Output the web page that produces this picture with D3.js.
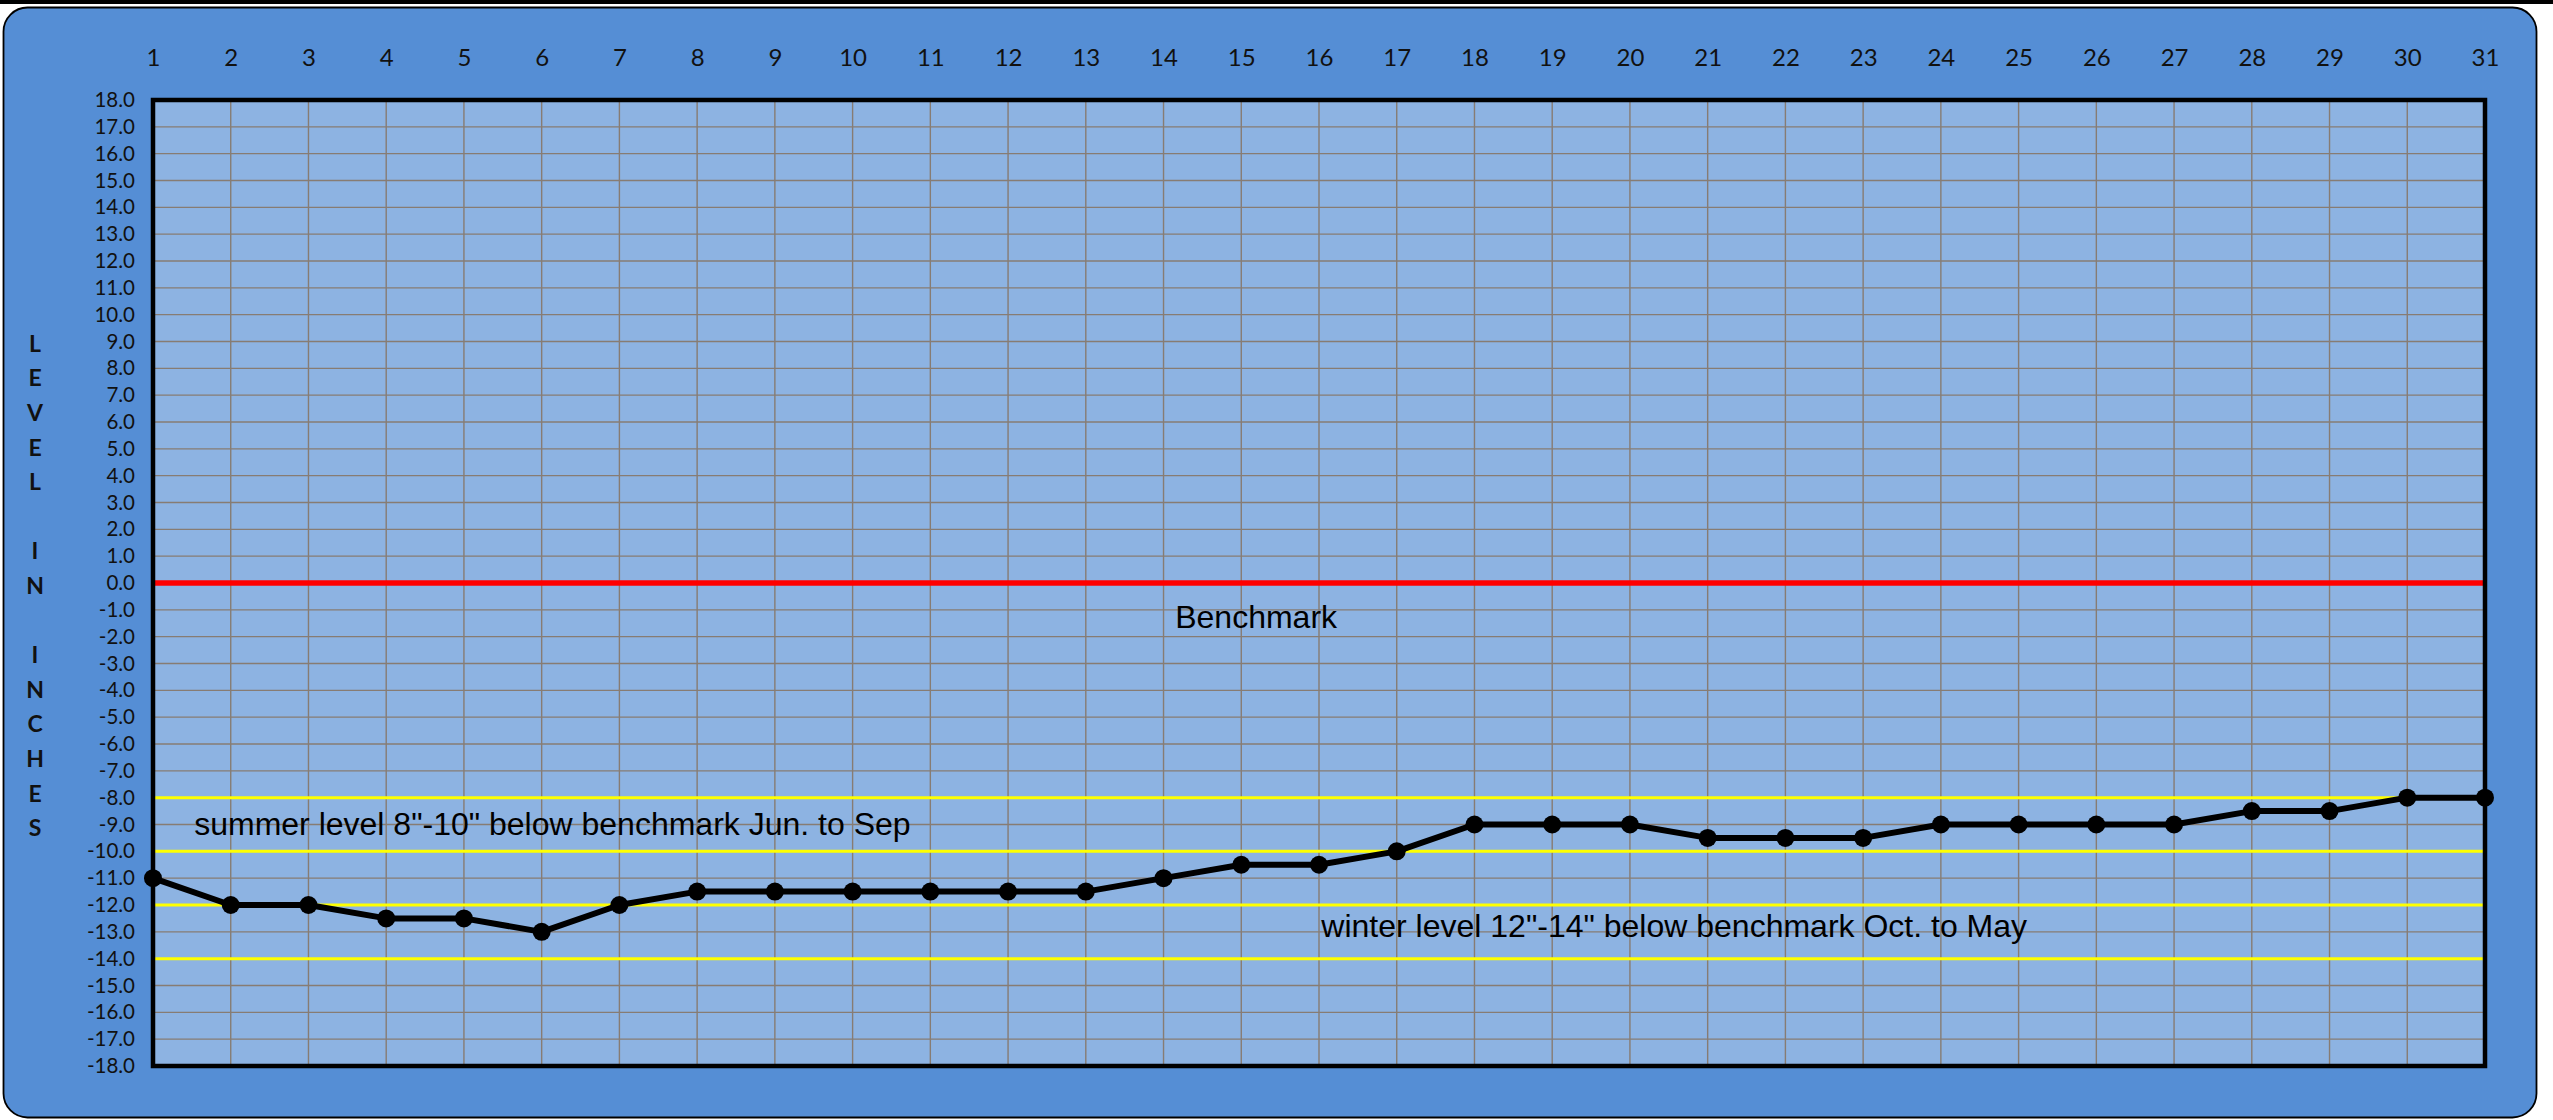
<!DOCTYPE html>
<html>
<head>
<meta charset="utf-8">
<script src="https://cdn.jsdelivr.net/npm/d3@7"></script>
<style>
  body { margin: 0; background: #ffffff; }
  svg { display: block; }
</style>
</head>
<body>
<div id="chart"></div>
<script>
// daily readings, level in inches relative to benchmark
let days = [1, 2, 3, 4, 5, 6, 7, 8, 9, 10, 11, 12, 13, 14, 15, 16,
  17, 18, 19, 20, 21, 22, 23, 24, 25, 26, 27, 28, 29, 30, 31];
let levels = [-11, -12, -12, -12.5, -12.5, -13, -12, -11.5, -11.5, -11.5, -11.5, -11.5, -11.5, -11, -10.5, -10.5,
  -10, -9, -9, -9, -9.5, -9.5, -9.5, -9, -9, -9, -9, -8.5, -8.5, -8, -8];

// y axis tick values
let yTicks = [18, 17, 16, 15, 14, 13, 12, 11, 10, 9, 8, 7, 6, 5, 4, 3, 2, 1, 0,
  -1, -2, -3, -4, -5, -6, -7, -8, -9, -10, -11, -12, -13, -14, -15, -16, -17, -18];

// reference lines
let benchmark = 0;
let guideLevels = [-8, -10, -12, -14];

let noteTexts = [
  "Benchmark",
  "summer level 8\"-10\" below benchmark Jun. to Sep",
  "winter level 12\"-14\" below benchmark Oct. to May"
];
let axisTitle = ["L", "E", "V", "E", "L", "", "I", "N", "", "I", "N", "C", "H", "E", "S"];

let svgWidth = 2553;
let svgHeight = 1120;

let margin = { top: 100, right: 68, bottom: 54, left: 153 };
let width = svgWidth - margin.left - margin.right;
let height = svgHeight - margin.top - margin.bottom;

let svg = d3.select("#chart")
  .append("svg")
  .attr("width", svgWidth)
  .attr("height", svgHeight);

// black strip along the top
svg.append("rect")
  .attr("x", 0).attr("y", 0)
  .attr("width", svgWidth).attr("height", 4)
  .attr("fill", "#000");

// rounded chart background
svg.append("rect")
  .attr("x", 3.5).attr("y", 7.5)
  .attr("width", 2533).attr("height", 1110)
  .attr("rx", 24).attr("ry", 24)
  .attr("fill", "#558ed5")
  .attr("stroke", "#000")
  .attr("stroke-width", 1.8);

let xScale = d3.scaleLinear().domain([1, 31]).range([0, width]);
let yScale = d3.scaleLinear().domain([-18, 18]).range([height, 0]);

let chartGroup = svg.append("g")
  .attr("transform", `translate(${margin.left}, ${margin.top})`);

// plot area
chartGroup.append("rect")
  .attr("width", width)
  .attr("height", height)
  .attr("fill", "#8db3e2");

// gridlines
chartGroup.append("g")
  .selectAll("line")
  .data(days)
  .enter()
  .append("line")
  .attr("x1", d => xScale(d)).attr("x2", d => xScale(d))
  .attr("y1", 0).attr("y2", height)
  .attr("stroke", "#877c73")
  .attr("stroke-width", 1.4);

chartGroup.append("g")
  .selectAll("line")
  .data(yTicks)
  .enter()
  .append("line")
  .attr("x1", 0).attr("x2", width)
  .attr("y1", d => yScale(d)).attr("y2", d => yScale(d))
  .attr("stroke", "#877c73")
  .attr("stroke-width", 1.4);

// axes, labels only
let topAxis = d3.axisTop(xScale).tickValues(days).tickSize(0).tickPadding(0).tickFormat(d3.format("d"));
let leftAxis = d3.axisLeft(yScale).tickValues(yTicks).tickSize(0).tickPadding(0).tickFormat(d3.format(".1f"));

let xAxis = chartGroup.append("g")
  .attr("transform", "translate(0, -34)")
  .call(topAxis);
xAxis.select(".domain").remove();
xAxis.selectAll("text")
  .attr("font-family", "Lato, 'Open Sans', sans-serif")
  .attr("font-size", "24px")
  .attr("fill", "#111");

let yAxis = chartGroup.append("g")
  .attr("transform", "translate(-18, 0)")
  .call(leftAxis);
yAxis.select(".domain").remove();
yAxis.selectAll("text")
  .attr("font-family", "Lato, 'Open Sans', sans-serif")
  .attr("font-size", "20.5px")
  .attr("fill", "#111")
  .text(d => d3.format(".1f")(d).replace("−", "-"));

// benchmark and seasonal level lines
chartGroup.append("line")
  .attr("x1", 0).attr("x2", width)
  .attr("y1", yScale(benchmark)).attr("y2", yScale(benchmark))
  .attr("stroke", "#ff0000")
  .attr("stroke-width", 5.5);

chartGroup.append("g")
  .selectAll("line")
  .data(guideLevels)
  .enter()
  .append("line")
  .attr("x1", -2).attr("x2", width + 2)
  .attr("y1", d => yScale(d)).attr("y2", d => yScale(d))
  .attr("stroke", "#ffff00")
  .attr("stroke-width", 3);

// plot border
chartGroup.append("rect")
  .attr("width", width)
  .attr("height", height)
  .attr("fill", "none")
  .attr("stroke", "#000")
  .attr("stroke-width", 4.5);

// annotations
let noteFont = "'Liberation Sans', Arial, sans-serif";
let notePlaces = [[14.15, -1.68], [1.53, -9.39], [16.03, -13.2]];
chartGroup.append("g")
  .selectAll("text")
  .data(noteTexts)
  .enter()
  .append("text")
  .attr("x", (d, i) => xScale(notePlaces[i][0]))
  .attr("y", (d, i) => yScale(notePlaces[i][1]))
  .attr("font-family", noteFont)
  .attr("font-size", "32px")
  .attr("fill", "#000")
  .text(d => d);

// data line and markers
let line = d3.line()
  .x((d, i) => xScale(days[i]))
  .y(d => yScale(d));

chartGroup.append("path")
  .datum(levels)
  .attr("d", line)
  .attr("fill", "none")
  .attr("stroke", "#000")
  .attr("stroke-width", 6)
  .attr("stroke-linejoin", "round");

chartGroup.append("g")
  .selectAll("circle")
  .data(levels)
  .enter()
  .append("circle")
  .attr("cx", (d, i) => xScale(days[i]))
  .attr("cy", d => yScale(d))
  .attr("r", 9)
  .attr("fill", "#000");

// stacked vertical axis title
svg.append("g")
  .selectAll("text")
  .data(axisTitle)
  .enter()
  .append("text")
  .attr("x", 35)
  .attr("y", (d, i) => 343.6 + i * 34.6)
  .attr("dy", "0.36em")
  .attr("text-anchor", "middle")
  .attr("font-family", "Lato, 'Open Sans', sans-serif")
  .attr("font-weight", "bold")
  .attr("font-size", "23px")
  .attr("fill", "#111")
  .text(d => d);
</script>
</body>
</html>
